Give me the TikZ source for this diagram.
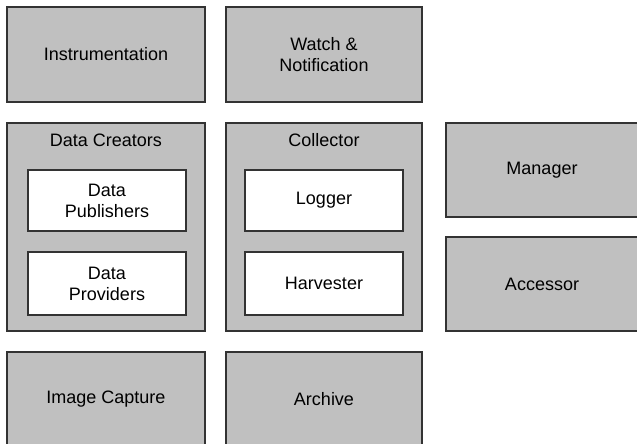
\documentclass[tikz,border=0pt]{standalone}
\usepackage{fontspec}
\setmainfont{Liberation Sans}
\definecolor{boxgray}{HTML}{C0C0C0}
\definecolor{edge}{HTML}{333333}
\begin{document}
\begin{tikzpicture}[x=1pt,y=-1pt,
  every node/.style={font=\fontsize{18}{21}\selectfont, inner sep=0pt, outer sep=0pt},
  graybox/.style={draw=edge, line width=1.4pt, fill=boxgray, rectangle, align=center},
  whitebox/.style={draw=edge, line width=1.4pt, fill=white, rectangle, align=center,
    minimum width=158pt},
  title/.style={anchor=center}]
\useasboundingbox (0,0) rectangle (637,444);
\clip (0,0) rectangle (637,444);
\fill[white] (0,0) rectangle (637,444);
% top row
\node[graybox, minimum width=198pt, minimum height=95pt] (inst) at (106,54.5) {Instrumentation};
\node[graybox, minimum width=196pt, minimum height=95pt] (watch) at (324,54.5) {Watch \&\\Notification};
% middle row containers
\node[graybox, minimum width=198pt, minimum height=208pt] (dc) at (106,227) {};
\node[title] (dct) at (106,140) {Data Creators};
\node[graybox, minimum width=196pt, minimum height=208pt] (coll) at (324,227) {};
\node[title] (collt) at (324,140) {Collector};
% inner boxes
\node[whitebox, minimum height=61pt] (pub) at (107,200.5) {Data\\Publishers};
\node[whitebox, minimum height=63pt] (prov) at (107,283.5) {Data\\Providers};
\node[whitebox, minimum height=61pt] (log) at (324,200.5) {Logger};
\node[whitebox, minimum height=63pt] (harv) at (324,283.5) {Harvester};
% right column (right edges run off the page)
\node[graybox, minimum width=228pt, minimum height=94pt] (man) at (560,170) {};
\node (mant) at (542,170) {Manager};
\node[graybox, minimum width=228pt, minimum height=94pt] (acc) at (560,284) {};
\node (acct) at (542,284) {Accessor};
% bottom row
\node[graybox, minimum width=198pt, minimum height=95pt] (img) at (106,399.5) {Image Capture};
\node[graybox, minimum width=196pt, minimum height=95pt] (arch) at (324,399.5) {Archive};
\end{tikzpicture}
\end{document}
